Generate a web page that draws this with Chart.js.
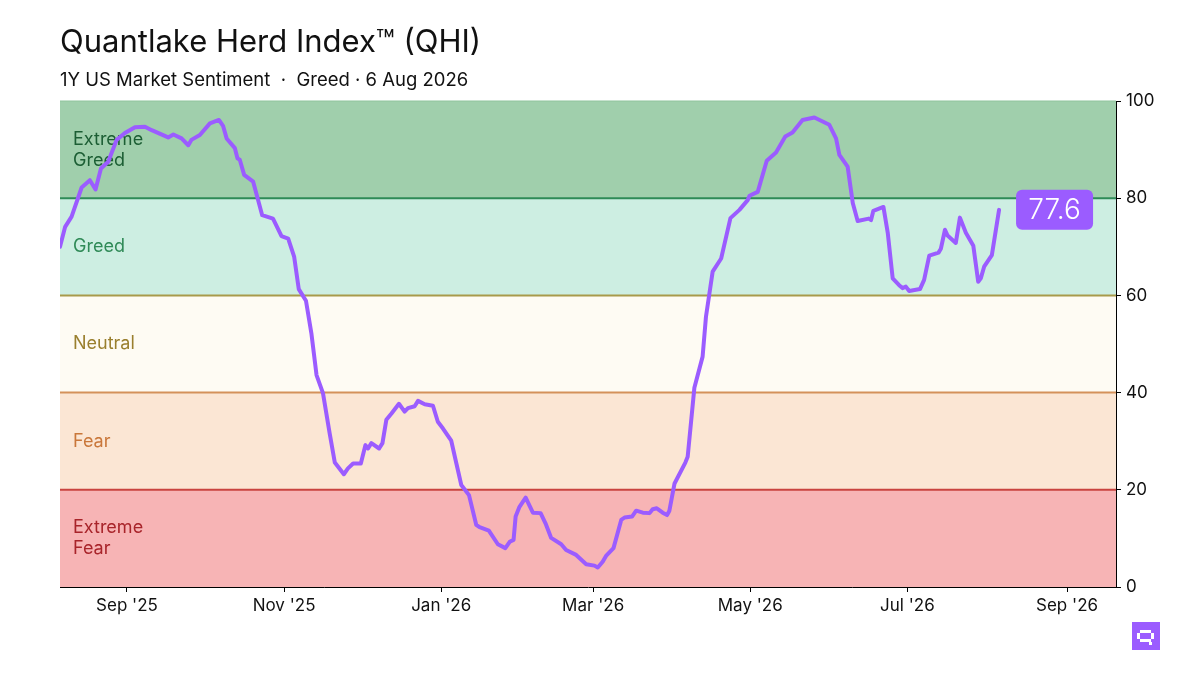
<!DOCTYPE html>
<html>
<head>
<meta charset="utf-8">
<script src="https://cdn.jsdelivr.net/npm/chart.js@4.4.1/dist/chart.umd.min.js"></script>
<style>
  html, body { margin: 0; padding: 0; background: #fff; }
  body { width: 1200px; height: 675px; position: relative; overflow: hidden; font-family: Inter, "Noto Sans", sans-serif; }
  #title { position: absolute; left: 60px; top: 23px; font-size: 31px; line-height: 36px; color: #111; white-space: pre; }
  #subtitle { position: absolute; left: 60px; top: 68px; font-size: 18.5px; line-height: 22px; color: #111; white-space: pre; }
  #wrap { position: absolute; left: 0; top: 0; width: 1200px; height: 675px; }
  #logo { position: absolute; left: 1132px; top: 622px; width: 28px; height: 28px; }
</style>
</head>
<body>
<div id="wrap"><canvas id="qhiChart"></canvas></div>
<div id="title">Quantlake Herd Index™ (QHI)</div>
<div id="subtitle">1Y US Market Sentiment  ·  Greed · 6 Aug 2026</div>
<svg id="logo" viewBox="0 0 28 28">
  <rect width="28" height="28" fill="#9b5cff"/>
  <g fill="#fff">
    <rect x="8" y="8" width="11" height="3"/>
    <rect x="5" y="11" width="3" height="6"/>
    <rect x="19" y="11" width="3" height="6"/>
    <rect x="8" y="17" width="11" height="3"/>
    <rect x="17" y="20" width="3" height="3"/>
  </g>
</svg>
<script>
// Índice QHI - días desde el 6 ago 2025
const startDate = '2025-08-06';
const days = [0, 2, 4.5, 8.4, 11.6, 13.8, 15.9, 18.7, 22, 25.2, 29.1, 33, 35.6, 42, 44, 47.2, 49.8, 51, 54.3, 58.2,
  61.7, 63.3, 64.7, 67.9, 68.9, 69.8, 71.5, 75, 78.5, 82.7, 86, 88.6, 90.9, 92.7, 95.5, 97.6, 99.6, 102.1, 104.7, 106.7,
  110.2, 111.8, 113.8, 116.8, 118.6, 119.6, 120.9, 123.9, 125.2, 126.7, 128.7, 131.6, 133.8, 135.1, 137.7, 139, 141.6, 144.8, 146.7, 148.7,
  151.9, 153.9, 155.8, 158.8, 161.6, 162.9, 166.5, 170, 172.9, 174.6, 176.1, 176.9, 178.4, 180.8, 183.6, 186.6, 188.5, 190.7, 194.6, 196.5,
  200.4, 204.3, 207.5, 208.8, 210.7, 212, 214.9, 217.9, 219.2, 222.1, 223.7, 226.3, 228.9, 230.1, 231.7, 234, 235.7, 236.6, 238.6, 242.8,
  243.7, 246.3, 249.5, 250.8, 253.4, 256.7, 260.3, 263.8, 267, 267.7, 270.9, 274.4, 278, 281.6, 284.4, 288.3, 292.9, 298.7, 301.3, 302.6,
  305.8, 307.8, 309.7, 314, 314.9, 315.8, 319.7, 321.4, 323.3, 325.8, 327.1, 328.4, 329.7, 333.9, 335.5, 337.5, 341.1, 342, 343.6, 344.6,
  347.8, 349.4, 351.7, 354.6, 356.5, 357.5, 358.8, 361.8, 364.6];
const qhi = [70.0, 74.1, 76.2, 82.2, 83.7, 81.8, 86.1, 87.5, 92.0, 93.4, 94.6, 94.7, 94.0, 92.5, 93.1, 92.3, 90.9, 92.0, 93.0, 95.4,
  96.1, 94.9, 92.3, 90.3, 88.2, 87.9, 84.8, 83.4, 76.5, 75.8, 72.2, 71.7, 68.0, 61.3, 58.9, 52.2, 43.6, 39.9, 31.6, 25.6,
  23.2, 24.4, 25.4, 25.4, 29.2, 28.5, 29.6, 28.5, 29.6, 34.4, 35.7, 37.7, 36.1, 36.8, 37.2, 38.3, 37.6, 37.3, 34.0, 32.6,
  30.1, 25.4, 21.0, 18.9, 12.8, 12.3, 11.6, 8.8, 8.0, 9.3, 9.7, 14.5, 16.5, 18.4, 15.3, 15.2, 13.1, 10.1, 8.8, 7.6,
  6.6, 4.7, 4.4, 4.0, 5.2, 6.4, 8.0, 13.8, 14.3, 14.5, 15.7, 15.3, 15.2, 16.0, 16.2, 15.3, 14.8, 15.7, 21.3, 25.6,
  26.8, 41.0, 47.4, 55.6, 64.9, 67.6, 75.9, 77.6, 79.6, 80.5, 81.3, 87.7, 89.4, 92.7, 93.5, 96.1, 96.6, 95.1, 92.3, 88.9,
  86.5, 79.0, 75.3, 75.8, 75.5, 77.4, 78.2, 72.8, 63.5, 62.1, 61.5, 61.8, 60.9, 61.3, 63.2, 68.2, 68.8, 69.6, 73.5, 72.3,
  70.8, 76.0, 72.9, 70.2, 62.8, 63.5, 65.9, 68.3, 77.6];

const tickDates = ['2025-09-01', '2025-11-01', '2026-01-01', '2026-03-01', '2026-05-01', '2026-07-01', '2026-09-01'];
const tickLabels = ["Sep '25", "Nov '25", "Jan '26", "Mar '26", "May '26", "Jul '26", "Sep '26"];
const yTicks = [0, 20, 40, 60, 80, 100];

const zoneNames = [['Extreme', 'Fear'], ['Fear'], ['Neutral'], ['Greed'], ['Extreme', 'Greed']];
const zoneEdges = [0, 20, 40, 60, 80, 100];
const zoneFill = ['#f7b4b5', '#fbe6d4', '#fefbf3', '#cdeee2', '#a0cfac'];
const zoneLine = ['#c9433f', '#d4915a', '#a89a4a', '#2e8b57', '#8fc49c'];
const zoneText = ['#a8242a', '#c9773a', '#9a7f2e', '#2f8a57', '#1c5e34'];

const dayMs = 86400000;
const toDay = s => (Date.parse(s) - Date.parse(startDate)) / dayMs;
const tickDays = tickDates.map(toDay);

const zonesPlugin = {
  id: 'zones',
  beforeDatasetsDraw(chart) {
    const {ctx, chartArea: a, scales: {y}} = chart;
    ctx.save();
    for (let i = 0; i < zoneFill.length; i++) {
      const top = y.getPixelForValue(zoneEdges[i + 1]);
      const bot = y.getPixelForValue(zoneEdges[i]);
      ctx.fillStyle = zoneFill[i];
      ctx.fillRect(a.left, top, a.right - a.left, bot - top);
    }
    for (let i = 0; i < zoneFill.length; i++) {
      const top = y.getPixelForValue(zoneEdges[i + 1]);
      ctx.strokeStyle = zoneLine[i];
      ctx.lineWidth = i == 4 ? 1 : 2;
      ctx.beginPath();
      ctx.moveTo(a.left, top);
      ctx.lineTo(a.right, top);
      ctx.stroke();
      // etiqueta de la zona
      const mid = y.getPixelForValue((zoneEdges[i] + zoneEdges[i + 1]) / 2);
      const lines = zoneNames[i];
      ctx.fillStyle = zoneText[i];
      ctx.font = '18px Inter, "Noto Sans", sans-serif';
      ctx.textBaseline = 'middle';
      ctx.textAlign = 'left';
      lines.forEach((t, k) => {
        ctx.fillText(t, a.left + 13, mid + (k - (lines.length - 1) / 2) * 21);
      });
    }
    ctx.restore();
  },
  afterDatasetsDraw(chart) {
    const {ctx, scales: {x, y}} = chart;
    const last = qhi[qhi.length - 1];
    const px = x.getPixelForValue(days[days.length - 1]) + 17;
    const py = y.getPixelForValue(last);
    ctx.save();
    ctx.fillStyle = '#9b5cff';
    ctx.beginPath();
    ctx.roundRect(px, py - 20, 77, 40, 6);
    ctx.fill();
    ctx.fillStyle = '#fff';
    ctx.font = '300 28px Inter, "Noto Sans", sans-serif';
    ctx.textAlign = 'center';
    ctx.textBaseline = 'middle';
    ctx.fillText(last.toFixed(1), px + 38.5, py + 1);
    ctx.restore();
  }
};

const ctx = document.getElementById('qhiChart').getContext('2d');
new Chart(ctx, {
  type: 'line',
  data: {
    datasets: [{
      label: 'QHI',
      data: days.map((d, i) => ({x: d, y: qhi[i]})),
      borderColor: '#9b5cff',
      borderWidth: 4,
      pointRadius: 0,
      tension: 0,
      borderJoinStyle: 'round',
      borderCapStyle: 'round'
    }]
  },
  plugins: [zonesPlugin],
  options: {
    responsive: true,
    maintainAspectRatio: false,
    animation: false,
    layout: { padding: { left: 60, top: 101, right: 0, bottom: 0 } },
    plugins: {
      legend: { display: false },
      tooltip: { enabled: false }
    },
    scales: {
      x: {
        type: 'linear',
        min: 0,
        max: 410,
        afterBuildTicks: s => { s.ticks = tickDays.map(v => ({value: v})); },
        afterFit: s => { s.height = 88; },
        grid: { display: true, drawOnChartArea: false, drawTicks: true, tickLength: 5, color: '#000' },
        border: { display: true, color: '#000', width: 1 },
        ticks: {
          color: '#111',
          font: { family: 'Inter, "Noto Sans", sans-serif', size: 17 },
          padding: 4,
          maxRotation: 0,
          callback: (v) => tickLabels[tickDays.indexOf(v)]
        }
      },
      y: {
        position: 'right',
        min: 0,
        max: 100,
        afterBuildTicks: s => { s.ticks = yTicks.map(v => ({value: v})); },
        afterFit: s => { s.width = 84; },
        grid: { display: true, drawOnChartArea: false, drawTicks: true, tickLength: 5, color: '#000' },
        border: { display: true, color: '#000', width: 1 },
        ticks: {
          color: '#111',
          font: { family: 'Inter, "Noto Sans", sans-serif', size: 17 },
          padding: 5
        }
      }
    }
  }
});
</script>
</body>
</html>
